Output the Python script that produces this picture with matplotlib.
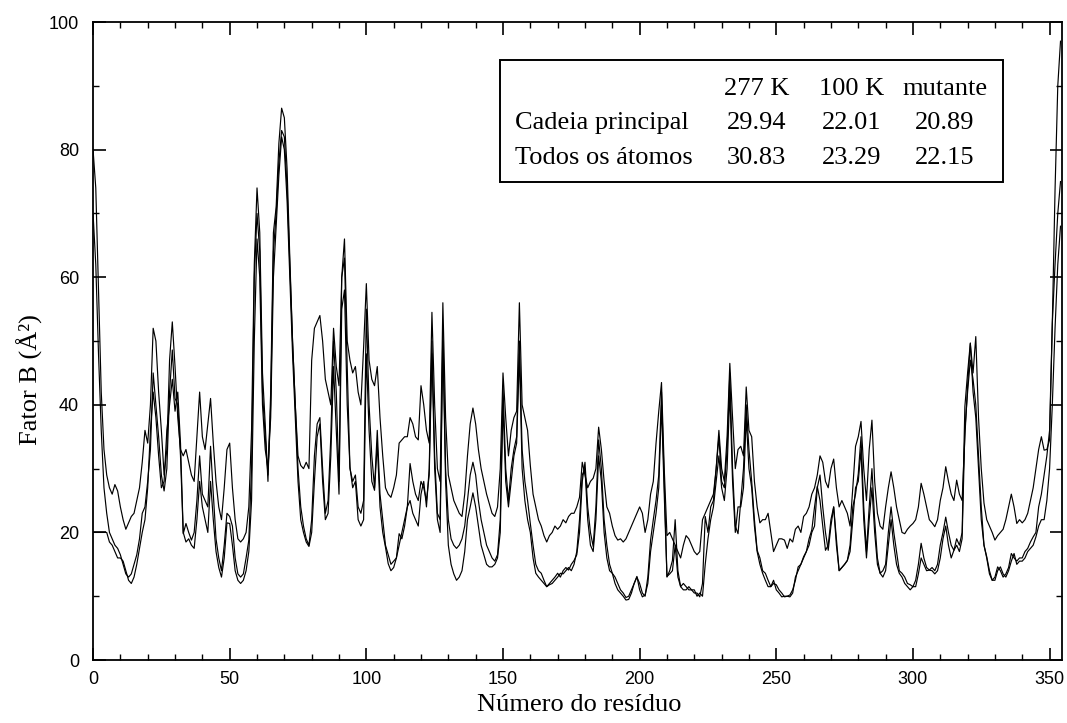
import matplotlib.pyplot as plt
import numpy as np

plt.rcParams['font.family'] = ['Liberation Sans', 'DejaVu Sans']

# fator B médio por resíduo (Å^2)
b_277 = [80, 74, 58, 42, 33, 29, 27, 26, 27.5, 26.5,
         24, 22, 20.5, 21.5, 22.5, 23, 25, 27, 31, 36,
         34, 40, 52, 50, 42, 36, 29, 33, 47, 53,
         46, 38, 33, 32, 33, 31, 29, 28, 35, 42,
         35, 33, 37, 41, 34, 28, 24, 22, 27, 33,
         34, 27, 22, 19, 18.5, 19, 20, 24, 36, 62,
         74, 67, 45, 37, 28, 42, 67, 71, 81, 86.5,
         85, 77, 63, 50, 40, 32, 30.5, 30, 31, 30,
         47, 52, 53, 54, 50, 44, 42, 40, 52, 46,
         43, 60, 66, 50, 47, 45, 46, 42, 40, 49,
         59, 47, 44, 43, 46, 38, 32, 27, 26, 25.5,
         27, 29, 34, 34.5, 35, 35, 38, 37, 35, 34.5,
         43, 40, 36, 34, 54.5, 40, 30, 28, 56, 38,
         29, 27, 25, 24, 23, 22.5, 26, 32, 37, 39.5,
         37, 33, 30, 28, 26, 24.5, 23, 22.5, 24, 30,
         45, 38, 32, 36, 38, 39, 56, 40, 38, 36,
         30.5, 26, 24, 22, 21, 19.5, 18.5, 19.5, 20, 21,
         20.5, 21, 22, 21.5, 22.5, 23, 23, 24, 25.5, 31,
         29, 27, 28, 28.5, 30, 36.5, 33, 28, 24, 23,
         21, 19.5, 18.8, 19, 18.5, 19, 20, 21, 22, 23,
         24, 23, 20, 22, 26, 28, 34, 39, 43.5, 30,
         19.5, 20, 19, 18, 17, 16, 18, 19.5, 19, 18,
         17, 16.5, 17, 22, 23, 24, 25, 26, 30, 36,
         30, 28, 35, 46.5, 38, 30, 33, 33.5, 32, 42.8,
         36, 35, 28, 24, 21.5, 22, 22, 23, 20, 17,
         18, 19, 19, 18.8, 17.5, 19, 18.5, 20.5, 21, 20,
         22.5, 23, 24, 26, 27, 29, 32, 31, 28, 27,
         30, 31.5, 27, 24, 25, 24, 23, 21, 27, 33.5,
         35, 37.4, 30, 25, 33, 37.6, 28, 23, 21, 20.5,
         24, 27, 29.5, 27, 24, 22, 20, 19.8, 20.5, 21,
         21.4, 22, 24, 27.7, 26, 24, 22, 21.5, 20.9, 22,
         25, 27, 30.3, 28, 26, 25, 28.2, 26, 25, 35,
         43, 49.6, 45, 50.7, 38, 30, 24.6, 22, 21, 20,
         18.8, 19.5, 20, 20.5, 22, 24, 26, 24, 21.4, 22,
         21.5, 22, 23, 25, 27, 30, 33, 35, 32.9, 33,
         34.5, 52.8, 73.7, 90, 97]

b_100 = [70, 62, 48, 36, 27, 23, 20, 19, 18, 17.5,
         16.5, 15, 13.5, 13, 13.5, 15, 16.5, 19, 23, 24,
         28, 33, 45, 40, 35, 29, 26.5, 30, 42, 48.6,
         41, 40, 32, 19.8, 21.4, 20, 18.8, 20, 25, 32,
         26, 25, 24, 33.5, 26, 19, 16, 14, 18, 23,
         22.5, 21, 16, 13.5, 13, 13.5, 16, 18.8, 30, 60,
         70, 64, 42, 35, 29, 40, 64, 70, 78, 83,
         82, 74, 62, 50, 40, 30, 24, 21, 19, 18,
         22, 32, 37, 38, 30, 23, 25, 35, 50, 42,
         28, 60, 63, 46, 30, 28, 29, 24, 23, 25,
         55, 40, 32, 27, 36, 26, 22, 18, 16.5, 15,
         15.5, 16, 18, 20, 22, 24, 25, 23, 22, 21,
         26, 28, 24, 30, 50, 32, 23, 22, 52, 30,
         22, 19, 18, 17.5, 18, 19, 21, 25, 29, 31,
         29, 25, 22, 20, 18, 17, 16, 15.5, 16.5, 22,
         43, 30, 25, 30, 33, 35, 50, 33, 28, 25,
         21.4, 18, 15, 14, 13.6, 12.5, 11.5, 12, 12.5, 13,
         13.6, 13, 14, 14.5, 14.1, 15, 15.6, 16.5, 20, 28,
         31, 24, 20, 17.8, 24, 34.5, 30, 22, 18, 15,
         13.6, 13, 12, 11, 10.5, 9.8, 10, 11, 12, 13,
         12, 10.5, 10, 13, 18.8, 22, 25, 29, 42, 28,
         13, 14, 15.6, 22, 14, 11.5, 12, 11.5, 11, 11,
         10.5, 10.5, 9.9, 12, 22.5, 20, 24, 25, 30, 35,
         28, 27, 33, 45, 30, 21, 19.8, 25, 30, 40,
         33, 28, 22, 17.2, 16, 14, 13.6, 12.5, 11.5, 12,
         11.8, 11, 10.5, 9.9, 10, 10.2, 11, 12.5, 14.6, 15,
         16.2, 17, 18, 20, 21, 27, 29, 24, 20, 17.2,
         21, 24, 19, 14, 14.5, 15, 15.6, 18, 24, 26,
         29.2, 35, 24, 17, 24, 30, 22, 16, 13.6, 14,
         15, 20, 24, 20, 17, 14, 13.6, 13, 12, 11.8,
         11.5, 12.5, 15, 18.3, 16, 14.5, 14.1, 14.5, 14, 15,
         18, 20, 22.4, 20, 18, 17.2, 19, 18, 20, 39.7,
         45, 49.7, 42, 38, 30, 22, 18, 16.2, 14, 12.5,
         13, 14.6, 14, 13, 13.5, 14.5, 16.7, 16, 15.5, 16,
         16, 17, 17.5, 18.5, 19.3, 20, 24, 26, 29, 32,
         36, 52.8, 62, 70, 75]

b_mut = [20, 20, 20, 20, 20, 20, 18.5, 18, 17, 16,
         16, 15.5, 14, 12.5, 12, 13, 15, 17.5, 20, 22,
         27, 36, 42, 38, 32, 27, 28, 36, 40, 44,
         39, 42, 34, 20, 18.5, 19, 18, 17.5, 22, 28,
         24, 22, 20, 28, 22, 17, 14.5, 13, 16, 21.5,
         21.4, 18, 14, 12.5, 12, 12.5, 14, 17, 25, 50,
         66, 60, 40, 33, 30, 38, 60, 68, 76, 82,
         80, 72, 60, 48, 38, 28, 22, 20, 18.5, 17.8,
         20, 28, 35, 37, 28, 22, 23, 32, 46, 36,
         26, 55, 58, 40, 30.3, 27, 28, 22, 21, 22,
         48, 36, 28, 26.6, 34, 24, 20, 17.7, 15.1, 14,
         14.5, 16, 19.8, 19, 21, 24, 30.8, 28, 26, 25,
         28, 27, 25, 29, 48, 30, 22, 20, 50, 28,
         18, 15, 13.5, 12.5, 13, 14, 17, 22, 24, 26.2,
         24, 21, 18, 16.5, 15, 14.6, 14.6, 15, 16, 20,
         40, 28, 24, 28, 32, 34, 48, 30, 25, 22,
         20, 16, 13.6, 13, 12.5, 12, 11.5, 11.8, 12, 12.5,
         13, 13.6, 13.5, 14, 14.5, 14, 15, 17, 22, 29,
         30, 22, 18, 17, 22, 32, 28, 20, 16, 14,
         13.6, 12, 11, 10.5, 10, 9.4, 9.5, 10.5, 12, 13.1,
         11, 9.9, 10.2, 12, 17, 20, 23, 27, 40, 26,
         13.1, 13.5, 14, 18, 13, 11.5, 11, 11, 11.5, 11,
         11, 10, 10.5, 10, 15, 19, 22, 24, 28, 32,
         27, 25, 30, 42, 28, 20, 24, 24, 27, 38,
         30, 27, 21, 17, 15, 13.6, 12.5, 11.5, 11.5, 12.5,
         11, 10.5, 9.9, 10, 10, 9.9, 10.5, 13, 14, 15,
         16, 17, 19, 20.4, 24, 27.2, 25, 21, 17.2, 18,
         22, 24, 18, 14, 14.5, 15, 15.6, 17, 22, 27,
         28, 33, 22, 16, 22, 27, 20, 15, 13.6, 13,
         14, 18, 22, 18, 15, 13.6, 13, 12, 11.5, 11,
         11.5, 11.5, 13.5, 16, 15, 14, 14.1, 14, 13.5, 14,
         16, 19, 21, 18, 16, 17.2, 18, 17, 19, 36,
         42, 47, 44, 40, 32, 24, 18, 16, 13.5, 12.5,
         12.5, 14, 14.6, 13.5, 13, 14, 15.5, 16.7, 15, 15.5,
         15.5, 16, 17, 17.5, 18, 19.3, 21, 22, 22, 25,
         30, 40, 52, 62, 68]

residuos = np.arange(len(b_277))

colunas = ['277 K', '100 K', 'mutante']
linhas = ['Cadeia principal', 'Todos os átomos']
medias = [[29.94, 22.01, 20.89],
          [30.83, 23.29, 22.15]]

serif = ['Liberation Serif', 'DejaVu Serif']

fig = plt.figure(figsize=(10.67, 7.23), dpi=100)
ax = fig.add_axes([0.0872, 0.0871, 0.908, 0.8824])

for serie in (b_mut, b_100, b_277):
    ax.plot(residuos, serie, color='black', lw=0.85)

ax.set_xlim(0, 354.5)
ax.set_ylim(0, 100)
ax.set_xticks(np.arange(0, 351, 50))
ax.set_xticks(np.arange(0, 355, 10), minor=True)
ax.set_yticks(np.arange(0, 101, 20))
ax.set_yticks(np.arange(0, 101, 10), minor=True)
ax.tick_params(which='both', direction='in', top=True, right=True, color='black')
ax.tick_params(which='major', length=9, width=1.2, labelsize=13)
ax.tick_params(which='minor', length=4.5, width=1.0)
ax.tick_params(axis='x', pad=8)
ax.tick_params(axis='y', pad=10)
for s in ax.spines.values():
    s.set_linewidth(1.3)

fig.text(0.028, 0.475, 'Fator B (Å²)', rotation=90, ha='center', va='center',
         fontsize=19, family=serif)
fig.text(0.543, 0.025, 'Número do resíduo', ha='center', va='center',
         fontsize=19, family=serif)

# quadro com as médias
ax.add_patch(plt.Rectangle((0.420, 0.749), 0.519, 0.191, transform=ax.transAxes,
                           fill=True, facecolor='white', edgecolor='black', lw=1.4,
                           zorder=5))
xs = [0.685, 0.783, 0.879]
ys = [0.886, 0.832, 0.777]
for x, nome in zip(xs, colunas):
    ax.text(x, ys[0], nome, transform=ax.transAxes, ha='center', va='baseline',
            fontsize=19, family=serif, zorder=6)
for i, nome in enumerate(linhas):
    ax.text(0.4355, ys[i + 1], nome, transform=ax.transAxes, ha='left',
            va='baseline', fontsize=19, family=serif, zorder=6)
    for x, v in zip(xs, medias[i]):
        ax.text(x, ys[i + 1], f'{v:.2f}', transform=ax.transAxes, ha='center',
                va='baseline', fontsize=19, family=serif, zorder=6)

fig.savefig('out.png', dpi=100)
